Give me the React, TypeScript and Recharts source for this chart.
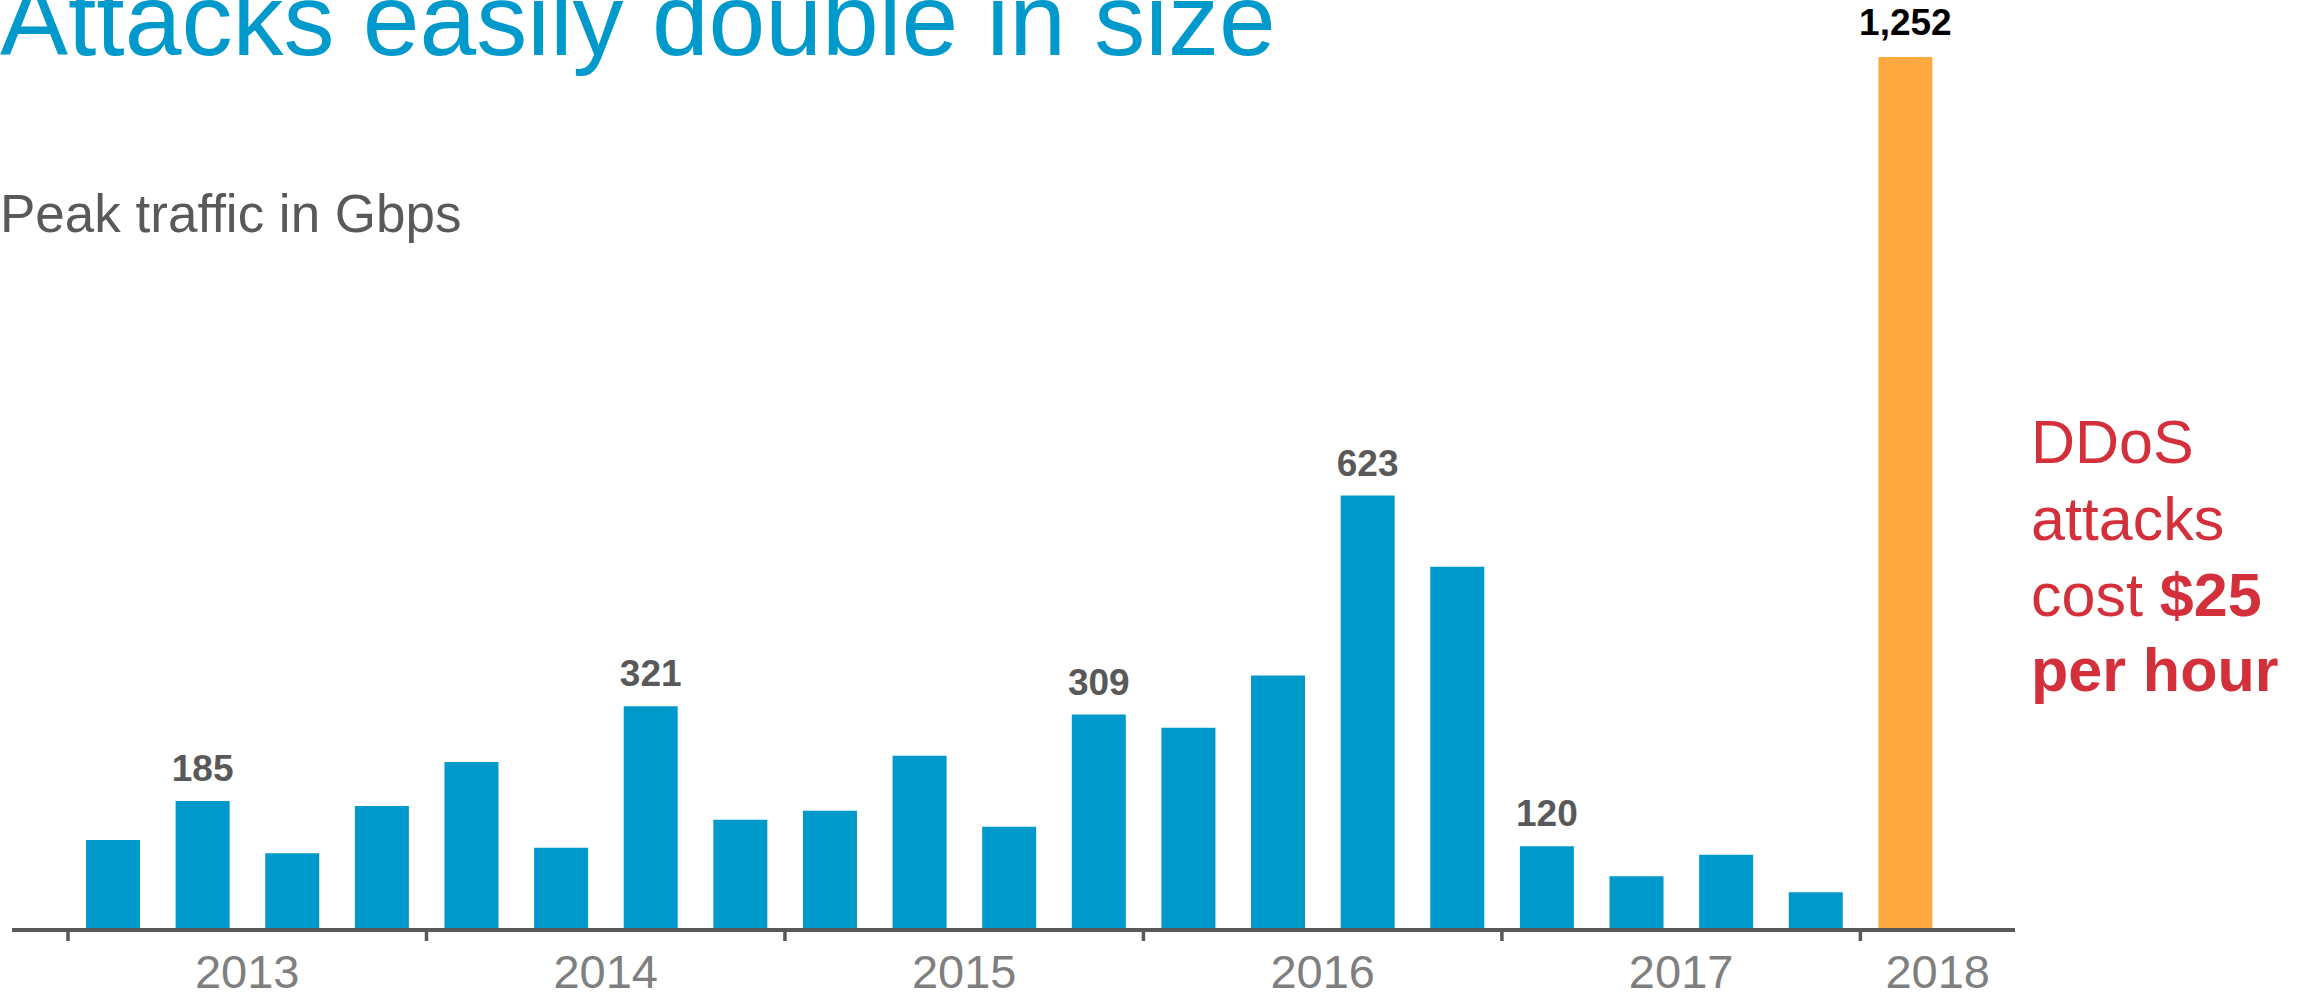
import { BarChart, Bar, XAxis, YAxis, Cell, LabelList } from "recharts";

// quarterly peak attack sizes, 2013 Q1 .. 2017 Q4, plus 2018
const quarters = [
  "2013 Q1", "2013 Q2", "2013 Q3", "2013 Q4",
  "2014 Q1", "2014 Q2", "2014 Q3", "2014 Q4",
  "2015 Q1", "2015 Q2", "2015 Q3", "2015 Q4",
  "2016 Q1", "2016 Q2", "2016 Q3", "2016 Q4",
  "2017 Q1", "2017 Q2", "2017 Q3", "2017 Q4",
  "2018",
];
const peakGbps = [
  129, 185, 110, 178,
  241, 118, 321, 158,
  171, 250, 148, 309,
  290, 365, 623, 521,
  120, 77, 108, 54,
  1252,
];
const labelledQuarters = ["2013 Q2", "2014 Q3", "2015 Q4", "2016 Q3", "2017 Q1", "2018"];
const highlightQuarter = "2018";

const BLUE = "#0099CC";
const ORANGE = "#FFAA40";
const RED = "#D3303B";
const GREY = "#595959";
const FONT = '"Liberation Sans", Arial, sans-serif';

const W = 2313;
const H = 993;
const margin = { top: 57, right: 298, bottom: 0, left: 12 };
const pad = { left: 56, right: 65 };
const axisEnd = W - margin.right;
const qWidth = (W - margin.left - margin.right - pad.left - pad.right) / quarters.length;

const data = quarters.map((q, i) => ({
  q,
  gbps: peakGbps[i],
  label: labelledQuarters.includes(q) ? peakGbps[i] : undefined,
}));

function YearTick(props: any) {
  const { x, y, payload } = props;
  const v = String(payload.value);
  const isLast = v === highlightQuarter;
  if (!v.endsWith("Q1") && !isLast) return <g />;
  const bx = x - qWidth / 2;
  const cx = isLast ? (bx + axisEnd) / 2 : bx + 2 * qWidth;
  return (
    <g>
      <line x1={bx} x2={bx} y1={y} y2={y + 11} stroke={GREY} strokeWidth={3.5} />
      <text x={cx} y={y + 58} textAnchor="middle" fill="#7F7F7F" fontSize={47} fontFamily={FONT}>
        {v.slice(0, 4)}
      </text>
    </g>
  );
}

function ValueLabel(props: any) {
  const { x, y, width, value, index } = props;
  if (value == null) return null;
  const last = quarters[index] === highlightQuarter;
  return (
    <text
      x={Number(x) + Number(width) / 2}
      y={Number(y) - (last ? 22 : 20)}
      textAnchor="middle"
      fill={last ? "#000" : GREY}
      fontSize={37}
      fontWeight="bold"
      fontFamily={FONT}
    >
      {Number(value).toLocaleString("en-US")}
    </text>
  );
}

export default function App() {
  return (
    <div style={{ position: "absolute", left: 0, top: 0, width: W, height: H, overflow: "hidden", background: "#fff" }}>
      <BarChart width={W} height={H} data={data} margin={margin}>
        <XAxis
          dataKey="q"
          padding={pad}
          height={H - 930}
          interval={0}
          tickSize={0}
          tickMargin={0}
          tickLine={false}
          axisLine={{ stroke: GREY, strokeWidth: 4 }}
          tick={YearTick}
        />
        <YAxis hide domain={[0, Math.max(...peakGbps)]} />
        <Bar dataKey="gbps" barSize={54} isAnimationActive={false}>
          {data.map((d) => (
            <Cell key={d.q} fill={d.q === highlightQuarter ? ORANGE : BLUE} />
          ))}
          <LabelList dataKey="label" content={ValueLabel} />
        </Bar>
      </BarChart>

      <svg width={W} height={H} style={{ position: "absolute", left: 0, top: 0, pointerEvents: "none" }}>
        <text x={0} y={55} fill={BLUE} fontSize={102} fontFamily={FONT}>
          Attacks easily double in size
        </text>
        <text x={0} y={232} fill={GREY} fontSize={53} fontFamily={FONT}>
          Peak traffic in Gbps
        </text>
        <g fill={RED} fontSize={61} fontFamily={FONT}>
          <text x={2031} y={463}>DDoS</text>
          <text x={2031} y={540}>attacks</text>
          <text x={2031} y={616}>
            cost <tspan fontWeight="bold">$25</tspan>
          </text>
          <text x={2031} y={691} fontWeight="bold">per hour</text>
        </g>
      </svg>
    </div>
  );
}
